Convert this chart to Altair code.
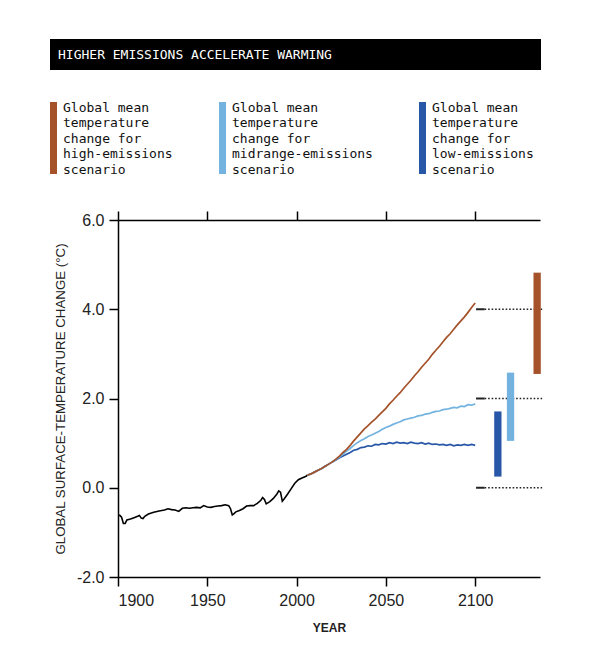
import altair as alt
import pandas as pd

# ---------------- data ----------------
TITLE = "HIGHER EMISSIONS ACCELERATE WARMING"
SERIES = ["high", "mid", "low"]
COLORS = ["#A5522A", "#74B3E0", "#2757A6"]
LEGEND_LABELS = [
    "Global mean\ntemperature\nchange for\nhigh-emissions\nscenario",
    "Global mean\ntemperature\nchange for\nmidrange-emissions\nscenario",
    "Global mean\ntemperature\nchange for\nlow-emissions\nscenario",
]

HIST_YEARS = [1900, 1901, 1902, 1903, 1904, 1905, 1907, 1909, 1911, 1912, 1913, 1914,
              1915, 1917, 1920, 1923, 1926, 1928, 1930, 1932, 1934, 1936, 1938, 1940,
              1942, 1944, 1946, 1948, 1950, 1952, 1954, 1956, 1958, 1960, 1962, 1963,
              1964, 1965, 1966, 1968, 1970, 1972, 1974, 1976, 1978, 1980, 1981, 1982,
              1983, 1985, 1987, 1989, 1990, 1991, 1992, 1993, 1995, 1997, 1999, 2001,
              2003, 2005, 2006]
HIST_VALUES = [-0.62, -0.62, -0.66, -0.80, -0.80, -0.72, -0.70, -0.67, -0.64, -0.62, -0.68, -0.69,
               -0.64, -0.59, -0.55, -0.52, -0.50, -0.47, -0.49, -0.50, -0.53, -0.46, -0.45, -0.46,
               -0.45, -0.44, -0.45, -0.40, -0.43, -0.44, -0.42, -0.41, -0.40, -0.38, -0.40, -0.47,
               -0.61, -0.58, -0.54, -0.51, -0.47, -0.41, -0.40, -0.40, -0.35, -0.28, -0.22, -0.26,
               -0.36, -0.31, -0.24, -0.14, -0.07, -0.10, -0.30, -0.25, -0.14, -0.02, 0.10, 0.18,
               0.22, 0.25, 0.28]

PROJ_YEARS = list(range(2006, 2101, 2))
HIGH = [0.28, 0.31, 0.35, 0.39, 0.43, 0.48, 0.53, 0.58, 0.64, 0.71,
        0.79, 0.86, 0.95, 1.05, 1.14, 1.23, 1.32, 1.39, 1.47, 1.54,
        1.62, 1.70, 1.78, 1.88, 1.96, 2.05, 2.13, 2.23, 2.32, 2.41,
        2.51, 2.60, 2.70, 2.79, 2.88, 2.99, 3.08, 3.17, 3.27, 3.37,
        3.45, 3.55, 3.65, 3.74, 3.83, 3.93, 4.04, 4.14]
MID = [0.28, 0.31, 0.35, 0.39, 0.43, 0.48, 0.53, 0.58, 0.63, 0.69,
       0.75, 0.82, 0.88, 0.95, 1.01, 1.06, 1.10, 1.15, 1.18, 1.22,
       1.26, 1.31, 1.35, 1.38, 1.42, 1.45, 1.48, 1.52, 1.54, 1.56,
       1.58, 1.61, 1.62, 1.65, 1.66, 1.69, 1.71, 1.72, 1.75, 1.76,
       1.78, 1.80, 1.79, 1.83, 1.82, 1.86, 1.85, 1.88]
LOW = [0.28, 0.31, 0.35, 0.39, 0.43, 0.48, 0.53, 0.58, 0.62, 0.67,
       0.71, 0.75, 0.79, 0.84, 0.86, 0.90, 0.91, 0.94, 0.93, 0.97,
       0.96, 0.99, 0.98, 1.01, 0.99, 1.02, 1.00, 1.01, 0.99, 1.02,
       1.00, 0.99, 1.01, 0.98, 1.00, 0.97, 0.98, 0.96, 0.97, 0.95,
       0.97, 0.94, 0.96, 0.95, 0.97, 0.95, 0.97, 0.95]

RANGE_YEARS = [2134.7, 2119.8, 2112.7]
RANGE_LOW = [2.55, 1.05, 0.25]
RANGE_HIGH = [4.82, 2.58, 1.71]

REF_LEVELS = [0, 2, 4]
REF_START = [2100.5, 2100.5, 2100.5]
REF_SOLID_END = [2105.3, 2105.3, 2105.3]
REF_END = [2137.5, 2137.5, 2137.5]

X_TICKS = [1900, 1950, 2000, 2050, 2100]
Y_TICKS = [-2, 0, 2, 4, 6]
X_DOMAIN = [1900, 2136.3]
Y_DOMAIN = [-2, 6]

# ---------------- tables ----------------
hist_df = pd.DataFrame({"year": HIST_YEARS, "value": HIST_VALUES})
proj = {"high": HIGH, "mid": MID, "low": LOW}
proj_dfs = {s: pd.DataFrame({"year": PROJ_YEARS, "value": v, "series": s}) for s, v in proj.items()}
range_df = pd.DataFrame({"year": RANGE_YEARS, "lo": RANGE_LOW, "hi": RANGE_HIGH, "series": SERIES})
ref_df = pd.DataFrame({"level": REF_LEVELS, "x0": REF_START, "x1": REF_SOLID_END, "x2": REF_END})
one = pd.DataFrame({"k": [0]})

# ---------------- scales / axes ----------------
x_scale = alt.Scale(domain=X_DOMAIN, nice=False, zero=False)
y_scale = alt.Scale(domain=Y_DOMAIN, nice=False, zero=False)
color_scale = alt.Scale(domain=SERIES, range=COLORS)

y_axis = alt.Axis(
    values=Y_TICKS,
    labelExpr="datum.value < 0 ? '-' + format(-datum.value, '.1f') : format(datum.value, '.1f')",
    title="GLOBAL SURFACE-TEMPERATURE CHANGE (°C)",
    labelFont="Liberation Sans", labelFontSize=16, labelColor="#222", labelPadding=5,
    tickSize=9, tickWidth=1.5, tickColor="black",
    domainColor="black", domainWidth=1.5,
    titleFont="Liberation Sans", titleFontSize=13.3, titleFontWeight="normal", titleColor="#222",
    titleX=-58, titleY=178.5, titleAngle=270, titleAlign="center", titleBaseline="middle",
)
x_axis_bottom = alt.Axis(
    orient="bottom", values=X_TICKS, format="d", title="YEAR",
    labelFont="Liberation Sans", labelFontSize=16, labelColor="#222", labelPadding=6,
    tickSize=9, tickWidth=1.5, tickColor="black",
    domainColor="black", domainWidth=1.5,
    titleFont="Liberation Sans", titleFontSize=12, titleFontWeight="bold", titleColor="#222",
    titleY=50, titleBaseline="middle",
)
x_axis_top = alt.Axis(
    orient="top", values=X_TICKS, labels=False, title="",
    tickSize=9, tickWidth=1.5, tickColor="black",
    domainColor="black", domainWidth=1.5,
)


def X(field, axis=None):
    return alt.X(field, type="quantitative", scale=x_scale, axis=axis)


def Y(field):
    return alt.Y(field, type="quantitative", scale=y_scale, axis=y_axis)


# ---------------- decorations (title bar, legend) ----------------
title_bar = alt.Chart(one).mark_rect(color="black").encode(
    x=alt.value(-68), x2=alt.value(423), y=alt.value(-181), y2=alt.value(-150))
title_text = alt.Chart(one).mark_text(
    font="DejaVu Sans Mono", fontSize=13, color="white", align="left", baseline="middle"
).encode(x=alt.value(-60), y=alt.value(-165.5), text=alt.value(TITLE))

legend_layers = []
LEG_BAR_X = [-68, 101, 301]
LEG_TEXT_X = [-55, 114, 314]
for lab, col, bx, tx in zip(LEGEND_LABELS, COLORS, LEG_BAR_X, LEG_TEXT_X):
    legend_layers.append(
        alt.Chart(one).mark_rect(color=col).encode(
            x=alt.value(bx), x2=alt.value(bx + 7), y=alt.value(-118), y2=alt.value(-46)))
    legend_layers.append(
        alt.Chart(one).mark_text(
            font="DejaVu Sans Mono", fontSize=13, color="#111", align="left",
            baseline="top", lineBreak="\n", lineHeight=15.5
        ).encode(x=alt.value(tx), y=alt.value(-118.5), text=alt.value(lab)))

# ---------------- data layers ----------------
ref_solid = alt.Chart(ref_df).mark_rule(color="#222", strokeWidth=2).encode(
    x=X("x0"), x2="x1", y=Y("level"))
ref_dot = alt.Chart(ref_df).mark_rule(color="#222", strokeWidth=1.5, strokeDash=[1.6, 1.9]).encode(
    x=X("x1"), x2="x2", y=Y("level"))

ranges = alt.Chart(range_df).mark_rule(strokeWidth=7.3, strokeCap="butt").encode(
    x=X("year"), y=Y("lo"), y2="hi",
    color=alt.Color("series:N", scale=color_scale, legend=None))

hist = alt.Chart(hist_df).mark_line(color="black", strokeWidth=1.6).encode(
    x=X("year", x_axis_bottom), y=Y("value"))

proj_layers = []
for s in ["low", "mid", "high"]:
    axis = x_axis_top if s == "low" else None
    proj_layers.append(
        alt.Chart(proj_dfs[s]).mark_line(strokeWidth=1.7).encode(
            x=X("year", axis), y=Y("value"),
            color=alt.Color("series:N", scale=color_scale, legend=None)))

chart = alt.layer(
    title_bar, title_text, *legend_layers,
    ref_solid, ref_dot, ranges, hist, *proj_layers
).resolve_axis(x="independent").properties(
    width=422, height=357,
    padding={"left": 110, "top": 212, "right": 50, "bottom": 80},
    autosize=alt.AutoSizeParams(type="none"),
).configure_view(strokeWidth=0).configure_axis(grid=False)

chart.save("out.html", embed_options={"renderer": "svg", "actions": False})
